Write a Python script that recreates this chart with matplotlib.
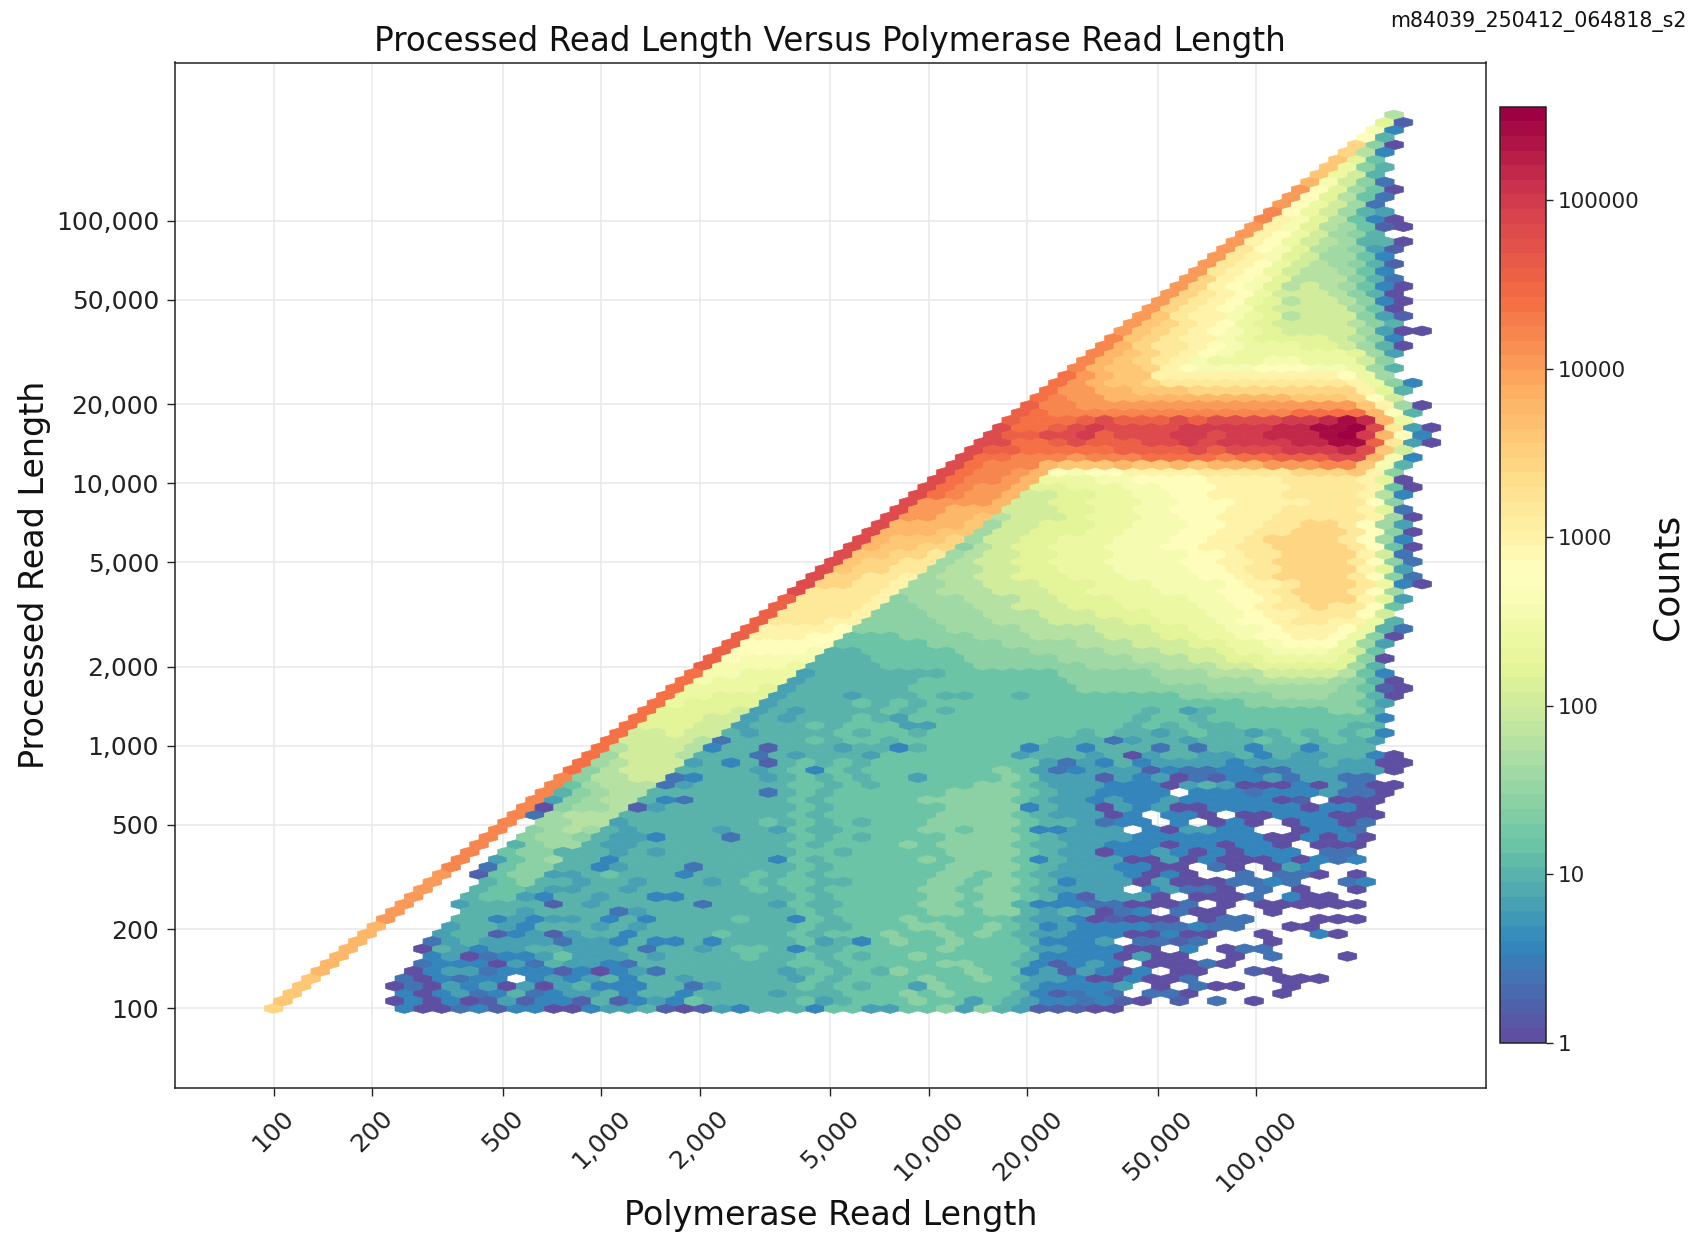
import numpy as np
import matplotlib
matplotlib.use("Agg")
import matplotlib.pyplot as plt
from matplotlib.colors import LogNorm
from matplotlib.ticker import FixedLocator, FuncFormatter, NullLocator

W, H = 1695, 1235
TITLE = "Processed Read Length Versus Polymerase Read Length"
XLABEL = "Polymerase Read Length"
YLABEL = "Processed Read Length"
CBLABEL = "Counts"
CORNER = "m84039_250412_064818_s2"
XTICKS = [100, 200, 500, 1000, 2000, 5000, 10000, 20000, 50000, 100000]
YTICKS = [100, 200, 500, 1000, 2000, 5000, 10000, 20000, 50000, 100000]
CBTICKS = [1, 10, 100, 1000, 10000, 100000]
COUNT_MAX = 360000
NX, NY = 62, 60
LOG_STEP_X, LOG_STEP_Y = 0.0570, 0.0567

# One string per hexagon row, bottom to top; the first
# character of a row is its hexagon on the diagonal. '.' = empty bin, other
# characters = 5*log10(count) in base 29.
LEVELS = "0123456789abcdefghijklmnopqrs"
rows = [
"h......" "3002313300344" "5101435" "553664" "466747" "5411100",
"i....." "03030141331513" "4365555" "564566" "676646" "54332310.1.2.0",
"i....." "3034235234453" "5535555" "455566" "676766" "6531232.220....0",
"i...." "02043404045333" "5524555" "565656" "647666" "6433334.0.200..0",
"i...." "203233.343453" "5545555" "546566" "667667" "65443003002....000",
"j...." "0344233313034" "2555555" "456565" "766676" "63414303.00..10",
"j...." "233304254432" "5555555" "566566" "666776" "6531343.00020",
"j...." "340233464445" "4555565" "565656" "676666" "6533330400..0.2...0",
"j..." "054344554445" "2554566" "535566" "666766" "664433300.3.022",
"j..." "245444424435" "3353555" "564536" "766766" "653334.2212...0",
"j..." "45513414553" "5555655" "565666" "766767" "654433300300..0..30",
"j..." "45543555454" "5555555" "565566" "677667" "6534333322322..00",
"k..." "5534344535" "3555565" "536566" "676666" "6544301000.022...000",
"k..." "5554555524" "5555555" "565666" "667767" "75454023.200..0",
"k.." "4555515455" "5552555" "465566" "667767" "75333220002.0.000000",
"k.." "5664355455" "3355555" "565666" "667767" "765314440.0002.300",
"k.." "566544554" "5555556" "565666" "667767" "7654444.34220.2.0..0",
"k.." "567554554" "5554565" "665566" "667767" "7653444040002232..23",
"k." "167744565" "5535556" "565666" "666776" "76544443030..2.220.0",
"l." "267755345" "5525555" "565666" "666777" "7654443300.20.043",
"l." "46785535" "5555555" "365666" "667677" "76354440040300030323",
"l." "67755545" "4555555" "566566" "666777" "7654403343030333.22",
"l." "5788544" "5555555" "565666" "676777" "7655443330330330.000",
"l." "7887544" "3555255" "565656" "666777" "76544443333333003030",
"l." "789854" "5555455" "465566" "667767" "7633444.304433..0332",
"l." "889945" "5555556" "565656" "667777" "76554233.3.030.03302",
"l" "289995" "5555555" "565666" "666777" "76544403.330.00333000",
"l" "07889" "1" "4555555" "565666" "666777" "73544043400333330330",
"l" "47899" "5325" "555" "565666" "667777" "765443433433333" "01.000",
"l" "57899" "555555" "2" "565666" "666777" "765443333.33323334220",
"l" "68999" "245555" "566565" "666667" "7" "654443330454000304200",
"l" "799aa" "235554" "565656" "646666" "7" "6444143402133424422",
"m" "79aaa" "55554" "56" "3" "656" "666666" "7" "642344413223322444440",
"m" "89aaa" "45351" "565656" "666666" "6" "642435344443444454400",
"m" "8aaa9" "55525" "4555" "4" "6666666" "455545045544535445530",
"m" "9aaa9" "3" "55" "1" "555" "4" "55" "3" "566666" "3" "55" "3" "555" "2" "5" "2" "55" "3" "55" "3" "55" "5",
"m" "aaaa9" "2" "55556" "566566" "66666" "6555" "2" "4" "55" "4" "555656565" "4",
"m" "aabaa" "5" "4" "55556" "566566" "66666" "65655" "4" "5655" "4" "56565" "6" "3",
"m" "bbbaa" "455565666" "44" "666666666" "6565655" "6666665" "5",
"m" "bbbaa" "454" "55565" "4" "66666666666" "656" "6" "5" "66" "66666" "66" "3",
"m" "bbbba" "454" "555565656" "6" "666666" "6" "656" "4" "56" "66666" "77" "5",
"m" "cbbbb" "4" "55556565" "6" "66" "6" "6666" "6" "66" "66" "6" "666" "777777" "64",
"m" "ccbbb" "4555" "4555" "6556" "6566" "6666" "6677" "7778" "8877" "50",
"m" "ccccb" "4555555" "666666666" "7777777" "8888888" "7610",
"m" "dcccc" "455555566666666777778888" "899998750",
"m" "ddccc" "45555555" "66666677" "777888999aaaa963",
"n" "ddddc" "5555666667777778888999" "aabbbbb85",
"n" "edddd" "55566666777778888999" "aabbccccb70",
"n" "eeeed" "556666677778888999" "aaabccdddca6",
"n" "eeeee" "6666677778888999" "aaabbccdeeec84",
"n" "fffee" "66677778889999" "aaabbccdeeffec70",
"n" "ffffe" "7777788889999" "aaabbccddefffec52",
"n" "gggff" "7777888999" "aaaabbcccdeefggffc5",
"n" "ggggf" "777888999" "aaabbbcccddeffgggea",
"n" "ggggf" "7788899" "aaabbbccccddefgghgge6",
"n" "ggggf" "7888999" "aabbbccccddeefghhhfb4",
"o" "ggggf" "88999aaabbccccdddeefghhhge8",
"o" "hhggf" "8899aaabbbcccddddeffghhhgc30",
"o" "hhggf" "899aabbbcccddddeefghhhhge72",
"o" "ihhgg" "899aabbcccddddeefgghhhhfb4",
"o" "ihhgg" "89aabbcccddddeeffghhhhge72",
"o" "iihhg" "89aabbcccddddeefgghhhhfa2",
"o" "jiihh" "79abbcccdddeeffgghhhhge60",
"o" "jiiih" "8aabbcccdddeeffghhhhge83",
"o" "jjjii" "8aabbbccdddeeffgghhhge70",
"o" "jjjji" "8aabbbccdddeeffgghhge84",
"o" "kkjji" "9aaabcccddeefffgggggf80",
"o" "kkjjj" "aaabbccddeeefffggg" "gfb2",
"o" "kkkkj" "aabbcccddeeeffffggge7",
"omlkkjaabbccddeeffffggggf93",
"omlkkjbbcccddeeeffffggggf60",
"omllkjcccddeeeeffffggggfb0",
"omllkjedeeffffggggghhhif7",
"omllljiiijiijijjjkkkllid5",
"ommlllklllmmmmlmmnnnoojd3",
"onnmmmmmnnnnonooopppqoia",
"oommnonnnoopoppppqqrrng40",
"onnoopnoooppoppqqqrspje3",
"ommnopoooopppppqqrrsog40",
"nmmmnonnnonooooppqrqjc",
"nmlllllllllllllmmmmje5",
"nllkkkkkkkkkkkkkkkif80",
"mlkkjjjjjjjjjjiiihea",
"mkkjjiiihhhhhhhhhfb5",
"mkjiihggggggggggfc73",
"mkjiiffffffffffec8",
"ljiihfedddeeeddc85",
"ljihgfdcccddccca7",
"ljihgfedccccccb84",
"ljhggfedcccbba850",
"lihgffdcbbbba973",
"kihgfedcbaaaa8400",
"kihgfecbaaaa975",
"kigffdcb9aaa741",
"khgfedbaaaa860",
"khgfecb9aa9730",
"khgfecaaa9750",
"khfedb9a98630",
"khfedb999752",
"kgfeca99863",
"kgfeca98751",
"kgfdba8863",
"kgedb98741",
"kfeca98550",
"kfeca875",
"kfdb98610",
"lfdb9630",
"leca854",
"keca82",
"keb962",
"keb860",
"jda72",
"ica5",
"ic75",
"ib6",
"h93",
"h70",
"e5",
"d3",
"b1",
"9",
]

xs, ys, cs = [], [], []
for r, row in enumerate(rows):
    for k, ch in enumerate(row):
        if ch == ".":
            continue
        col = r // 2 + k + (r % 2) / 2
        xs.append(10 ** (2 + col * LOG_STEP_X))
        ys.append(10 ** (2 + r / 2 * LOG_STEP_Y))
        cs.append(10 ** (LEVELS.index(ch) / 5))

fig = plt.figure(figsize=(W / 100, H / 100), dpi=100)
ax = fig.add_axes([175 / W, 1 - 1087.5 / H, 1310.5 / W, 1025 / H])
cmap = plt.get_cmap("Spectral_r", 64)
hb = ax.hexbin(
    xs, ys, C=cs, reduce_C_function=np.mean,
    gridsize=(NX, NY), xscale="log", yscale="log",
    extent=(2, 2 + NX * LOG_STEP_X, 2, 2 + NY * LOG_STEP_Y),
    cmap=cmap, norm=LogNorm(vmin=1, vmax=COUNT_MAX),
    linewidths=0.5, edgecolors="face",
)
ax.set_xlim(50, 500000)
ax.set_ylim(50, 400000)
ax.set_axisbelow(True)
ax.grid(True, color="#e8e8e8", lw=1.1)
fmt = FuncFormatter(lambda v, _: f"{int(v):,}")
for axis, ticks in ((ax.xaxis, XTICKS), (ax.yaxis, YTICKS)):
    axis.set_major_locator(FixedLocator(ticks))
    axis.set_minor_locator(NullLocator())
    axis.set_major_formatter(fmt)
ax.tick_params(axis="both", labelsize=18, length=5.5, width=1.0, colors="#222222")
ax.tick_params(axis="y", pad=6)
ax.tick_params(axis="x", labelrotation=45, pad=8)
for s in ax.spines.values():
    s.set_linewidth(1.1)
    s.set_color("#222222")

ax.set_title(TITLE, fontsize=23.5, pad=8, color="#111111")
ax.set_xlabel(XLABEL, fontsize=24, color="#111111")
ax.xaxis.set_label_coords(0.5, -0.109)
ax.set_ylabel(YLABEL, fontsize=24, color="#111111")
ax.yaxis.set_label_coords(-0.095, 0.5)

cax = fig.add_axes([1499.5 / W, 1 - 1043 / H, 46.5 / W, 936.3 / H])
cb = fig.colorbar(hb, cax=cax)
cb.set_ticks(CBTICKS)
cb.set_ticklabels([str(t) for t in CBTICKS])
cb.ax.yaxis.set_minor_locator(NullLocator())
cb.ax.tick_params(labelsize=15.5, length=5, width=1.0, colors="#222222")
cb.outline.set_linewidth(1.1)
cb.outline.set_edgecolor("#222222")
fig.text(1667 / W, 1 - 577 / H, CBLABEL, rotation=90, fontsize=26, ha="center", va="center", color="#111111")
fig.text(1687 / W, 1 - 21 / H, CORNER, fontsize=14.8, ha="right", va="center", color="#111111")
fig.savefig("out.png", dpi=100)
